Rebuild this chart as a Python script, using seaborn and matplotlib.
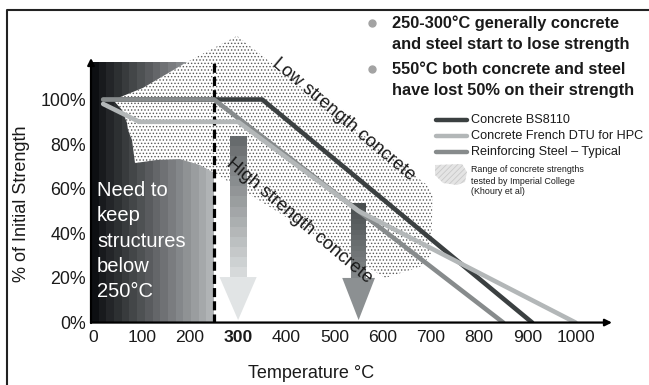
import numpy as np
import pandas as pd
import matplotlib
matplotlib.use("Agg")
import matplotlib.pyplot as plt
import seaborn as sns
from matplotlib.patches import Polygon, Rectangle
from matplotlib.lines import Line2D

# Strength retention curves: temperature (°C) vs % of initial strength
bs8110_temp = [20, 350, 910]
bs8110_strength = [100, 100, 0]
french_dtu_temp = [20, 95, 300, 550, 1000]
french_dtu_strength = [98, 90, 90, 50, 0]
steel_temp = [20, 250, 850]
steel_strength = [100, 100, 0]

series_names = ["Concrete BS8110", "Reinforcing Steel – Typical", "Concrete French DTU for HPC"]
series_colors = ["#3b4041", "#878b8c", "#b3b7b8"]
legend_order = ["Concrete BS8110", "Concrete French DTU for HPC", "Reinforcing Steel – Typical"]

# Outline of the range of concrete strengths tested by Imperial College
range_temp = [40.7, 102.7, 194, 297.7, 691.9, 704, 700, 677, 604.8,
              248, 221, 179.5, 131.7, 86.1, 79.9, 71.6, 69.5, 59.1]
range_strength = [99.8, 105.2, 116.8, 128.5, 61.7, 57.2, 30.3, 24.9, 20.0,
                  67.4, 70.6, 73.3, 72.9, 71.5, 81.8, 86.3, 89.5, 95.3]

x_ticks = [0, 100, 200, 300, 400, 500, 600, 700, 800, 900, 1000]
y_ticks = [0, 20, 40, 60, 80, 100]
y_tick_labels = ["0%", "20%", "40%", "60%", "80%", "100%"]

safe_limit = 250          # keep structures below this temperature
zone_top = 116.8
arrow_temps = [300, 550]  # strength-loss markers
arrow_tops = [83.6, 53.6]

XMIN, XMAX = -5.2, 1075.7
YMIN, YMAX = -0.2, 118.6

sns.set_style("white")
plt.rcParams["font.family"] = ["Liberation Sans", "DejaVu Sans"]
plt.rcParams["hatch.linewidth"] = 0.6
plt.rcParams["lines.scale_dashes"] = False

W, H = 649, 385
fig = plt.figure(figsize=(W / 100, H / 100), dpi=100)
ax = fig.add_axes([91 / W, 1 - 323 / H, 521 / W, 265 / H])
ax.set_xlim(XMIN, XMAX)
ax.set_ylim(YMIN, YMAX)
for s in ax.spines.values():
    s.set_visible(False)

# Dark-to-grey banded zone up to the safe temperature
n_bands = 16
band_edges = np.linspace(XMIN, safe_limit, n_bands + 1)
band_grey = np.linspace(0.05, 0.69, n_bands)
for i in range(n_bands):
    g = band_grey[i]
    ax.add_patch(Rectangle((band_edges[i], 0), band_edges[i + 1] - band_edges[i], zone_top,
                           facecolor=(g, g + 0.01, g + 0.02), edgecolor="none", zorder=1))

# Stippled range of concrete strengths
ax.add_patch(Polygon(np.column_stack([range_temp, range_strength]), closed=True,
                     facecolor="white", edgecolor="#5a5a5a", hatch=".....", lw=0,
                     zorder=2, clip_on=False))

# Safe-limit dashed line
ax.plot([safe_limit, safe_limit], [0, zone_top], color="black", lw=2.3,
        dashes=(6.5, 3), zorder=3)


def gradient_arrow(xc, top, base, tip, shaft_w, head_w, c_top, c_bot, c_head, steps=14):
    ys = np.linspace(top, base, steps + 1)
    c0 = np.array(matplotlib.colors.to_rgb(c_top))
    c1 = np.array(matplotlib.colors.to_rgb(c_bot))
    for i in range(steps):
        f = i / (steps - 1)
        ax.add_patch(Rectangle((xc - shaft_w / 2, ys[i + 1]), shaft_w, ys[i] - ys[i + 1],
                               facecolor=c0 * (1 - f) + c1 * f, edgecolor="none", zorder=3))
    ax.add_patch(Polygon([(xc - head_w / 2, base), (xc + head_w / 2, base), (xc, tip)],
                         closed=True, facecolor=c_head, edgecolor="none", zorder=3))


gradient_arrow(arrow_temps[0], arrow_tops[0], 20.4, 1.1, 35, 77, "#676b6d", "#d6d9da", "#e1e4e5")
gradient_arrow(arrow_temps[1], arrow_tops[1], 20.0, 1.1, 31, 68, "#4a4f50", "#828688", "#8c9092")

# Strength curves, drawn one at a time so the steel curve sits above BS8110
curves = {
    "Concrete BS8110": (bs8110_temp, bs8110_strength),
    "Reinforcing Steel – Typical": (steel_temp, steel_strength),
    "Concrete French DTU for HPC": (french_dtu_temp, french_dtu_strength),
}
for k, name in enumerate(series_names):
    t, s = curves[name]
    df = pd.DataFrame({"temp": t, "strength": s})
    sns.lineplot(data=df, x="temp", y="strength", color=series_colors[k], sort=False,
                 estimator=None, lw=3.3, legend=False, ax=ax, zorder=5 + k * 0.1)

# Axes with arrow heads
ax.annotate("", xy=(XMAX, 0), xytext=(XMIN, 0), annotation_clip=False, zorder=6,
            arrowprops=dict(arrowstyle="-|>", color="black", lw=1.6, mutation_scale=10,
                            shrinkA=0, shrinkB=0))
ax.annotate("", xy=(XMIN, YMAX), xytext=(XMIN, YMIN), annotation_clip=False, zorder=6,
            arrowprops=dict(arrowstyle="-|>", color="black", lw=1.6, mutation_scale=10,
                            shrinkA=0, shrinkB=0))

ax.set_xticks(x_ticks)
ax.set_xticklabels([str(t) for t in x_ticks], fontsize=12.6, color="#1a1a1a")
ax.set_yticks(y_ticks)
ax.set_yticklabels(y_tick_labels, fontsize=12.8, color="#1a1a1a")
ax.tick_params(axis="x", length=0, pad=5)
ax.tick_params(axis="y", length=0, pad=3.6)
for lab in ax.get_xticklabels():
    if lab.get_text() == "300":
        lab.set_fontweight("bold")
ax.set_xlabel("")
ax.set_ylabel("")

fig.text(311 / W, 1 - 373 / H, "Temperature °C", fontsize=13, ha="center", va="center", color="#1a1a1a")
fig.text(22 / W, 1 - 204 / H, "% of Initial Strength", fontsize=13, rotation=90,
         ha="center", va="center", color="#1a1a1a")

# Annotations inside the plot
ax.text(7.3, 36.5, "Need to\nkeep\nstructures\nbelow\n250°C", color="white", fontsize=14.5,
        ha="left", va="center", linespacing=1.42, zorder=7)
ax.text(519, 91.0, "Low strength concrete", fontsize=13.2, rotation=-40,
        rotation_mode="anchor", ha="center", va="center", color="#1a1a1a", zorder=7)
ax.text(427, 45.7, "High strength concrete", fontsize=13.2, rotation=-40,
        rotation_mode="anchor", ha="center", va="center", color="#1a1a1a", zorder=7)

# Bullet notes
bullet_lines = [("250-300°C generally concrete", 23, True),
                ("and steel start to lose strength", 45, False),
                ("550°C both concrete and steel", 69, True),
                ("have lost 50% on their strength", 91, False)]
for text, ypx, dot in bullet_lines:
    fig.text(392 / W, 1 - ypx / H, text, fontsize=11.8, fontweight="bold",
             ha="left", va="center", color="#1a1a1a")
    if dot:
        fig.add_artist(Line2D([372 / W], [1 - ypx / H], marker="o", ms=5, color="#a3a3a3",
                              transform=fig.transFigure))

# Legend
legend_y = [120, 136, 152]
for name, ypx in zip(legend_order, legend_y):
    col = series_colors[series_names.index(name)]
    fig.add_artist(Line2D([436 / W, 467 / W], [1 - ypx / H] * 2, color=col, lw=3.2,
                          solid_capstyle="round", transform=fig.transFigure))
    fig.text(471 / W, 1 - ypx / H, name, fontsize=9.1, ha="left", va="center", color="#1a1a1a")

patch_px = [(435, 165), (462, 164), (467, 172), (465, 182), (457, 185), (443, 183), (435, 175)]
fig.add_artist(Polygon([(x / W, 1 - y / H) for x, y in patch_px], closed=True,
                       facecolor="#e4e4e4", edgecolor="#c9c9c9", hatch="//////", lw=0,
                       transform=fig.transFigure))
for text, ypx in [("Range of concrete strengths", 170), ("tested by Imperial College", 181),
                  ("(Khoury et al)", 192)]:
    fig.text(471 / W, 1 - ypx / H, text, fontsize=6.4, ha="left", va="center", color="#1a1a1a")

# Slide frame
fig.add_artist(Line2D([7 / W, 7 / W, 1.0], [0.0, 1 - 10 / H, 1 - 10 / H], color="#222222",
                      lw=1.5, transform=fig.transFigure))

fig.savefig("out.png", dpi=100)
